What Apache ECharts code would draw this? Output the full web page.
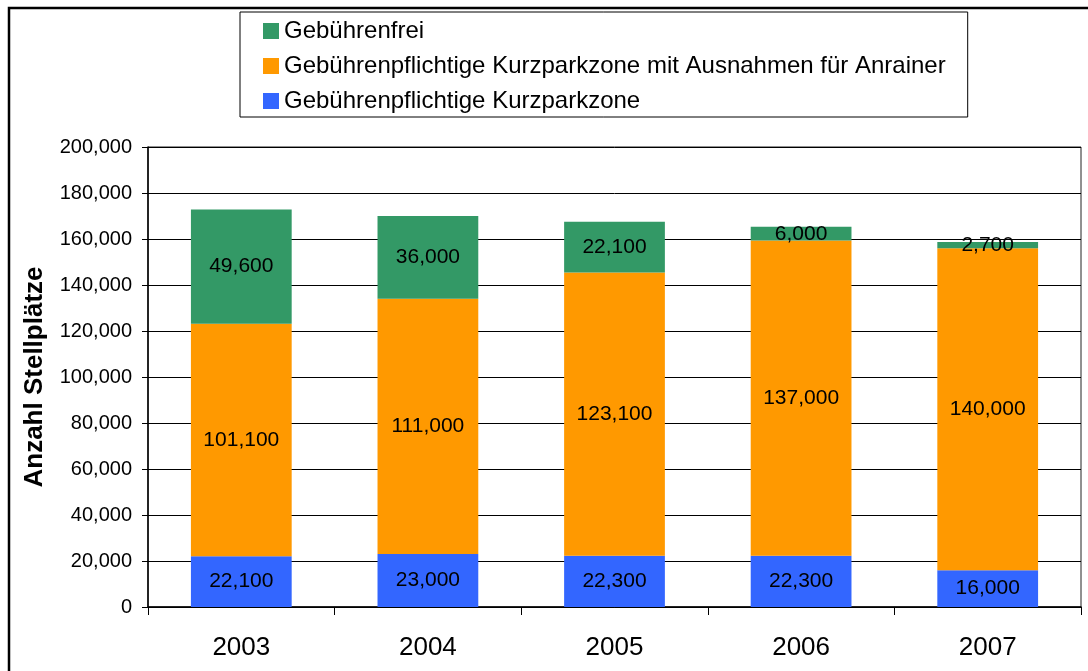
<!DOCTYPE html>
<html lang="en">
<head>
    <meta charset="UTF-8">
    <title>Anzahl Stellplätze</title>
    <script src="https://cdn.jsdelivr.net/npm/echarts/dist/echarts.min.js"></script>
    <style>
        body { margin: 0; background: #fff; }
        #chart { width: 1088px; height: 671px; }
    </style>
</head>
<body>
    <div id="chart"></div>
    <script>
        // categories and values
        const years = ['2003', '2004', '2005', '2006', '2007'];
        const kurzparkzone = [22100, 23000, 22300, 22300, 16000];
        const mitAusnahmen = [101100, 111000, 123100, 137000, 140000];
        const gebuehrenfrei = [49600, 36000, 22100, 6000, 2700];

        const fmt = v => Number(v).toLocaleString('en-US');
        const font = 'Liberation Sans, Arial, sans-serif';

        const chart = echarts.init(document.getElementById('chart'));

        function makeSeries(name, data, color) {
            return {
                name: name,
                type: 'bar',
                stack: 'total',
                data: data,
                barWidth: '54%',
                itemStyle: { color: color },
                label: {
                    show: true,
                    position: 'inside',
                    color: '#000',
                    fontSize: 21,
                    fontFamily: font,
                    formatter: p => fmt(p.value)
                },
                emphasis: { disabled: true }
            };
        }

        chart.setOption({
            animation: false,
            textStyle: { fontFamily: font },
            graphic: [{
                type: 'rect',
                shape: { x: 9, y: 8, width: 1100, height: 700 },
                style: { fill: 'none', stroke: '#000', lineWidth: 2.5 },
                silent: true
            }],
            legend: {
                orient: 'vertical',
                left: 240,
                top: 12,
                padding: [7, 22, 4, 23],
                itemGap: 11,
                itemWidth: 16,
                itemHeight: 16,
                borderColor: '#000',
                borderWidth: 1,
                textStyle: { fontSize: 24, color: '#000', fontFamily: font },
                data: [
                    { name: 'Gebührenfrei', icon: 'rect' },
                    { name: 'Gebührenpflichtige Kurzparkzone mit Ausnahmen für Anrainer', icon: 'rect' },
                    { name: 'Gebührenpflichtige Kurzparkzone', icon: 'rect' }
                ]
            },
            grid: {
                left: 148,
                top: 147,
                right: 7,
                bottom: 64,
                show: true,
                borderColor: '#222',
                borderWidth: 1
            },
            xAxis: {
                type: 'category',
                data: years,
                axisLine: { lineStyle: { color: '#000', width: 1.5 } },
                axisTick: { show: true, length: 8, lineStyle: { color: '#000' } },
                axisLabel: { fontSize: 26, color: '#000', margin: 28, fontFamily: font }
            },
            yAxis: {
                type: 'value',
                min: 0,
                max: 200000,
                interval: 20000,
                name: 'Anzahl Stellplätze',
                nameLocation: 'middle',
                nameGap: 100,
                nameRotate: 90,
                nameTextStyle: { fontSize: 26, fontWeight: 'bold', color: '#000', fontFamily: font },
                axisLine: { show: true, lineStyle: { color: '#000', width: 1.5 } },
                axisTick: { show: true, length: 6, lineStyle: { color: '#000' } },
                splitLine: { lineStyle: { color: '#000', width: 1 } },
                axisLabel: { fontSize: 20, color: '#000', margin: 16, fontFamily: font, formatter: fmt }
            },
            series: [
                makeSeries('Gebührenpflichtige Kurzparkzone', kurzparkzone, '#3366FF'),
                makeSeries('Gebührenpflichtige Kurzparkzone mit Ausnahmen für Anrainer', mitAusnahmen, '#FF9900'),
                makeSeries('Gebührenfrei', gebuehrenfrei, '#339966')
            ]
        });
    </script>
</body>
</html>
